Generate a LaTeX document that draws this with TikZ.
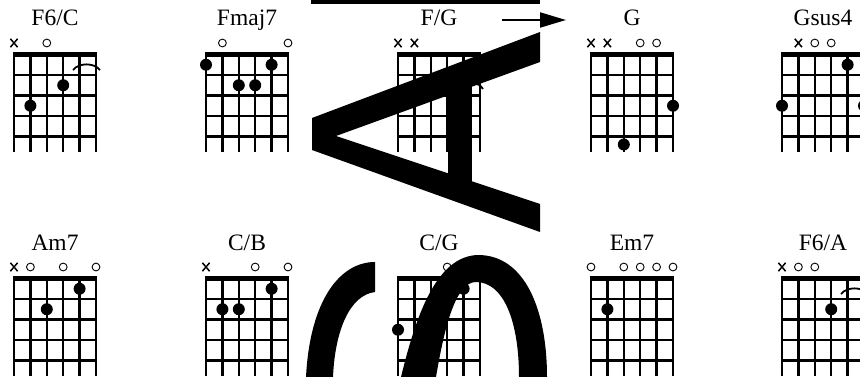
\documentclass[tikz,border=0pt]{standalone}
\usepackage{fontspec}
\setmainfont{Liberation Serif}
\usetikzlibrary{arrows.meta}
\newcommand\cgrid[2]{%
  \foreach \s in {0,...,5} \draw[gridline] ({#1+16.4*\s},#2) -- ({#1+16.4*\s},{#2+97.5});
  \foreach \f in {1,...,4} \draw[gridline] ({#1-1.2},{#2+20.5*\f}) -- ({#1+83.2},{#2+20.5*\f});
  \draw[nutline] ({#1-1.2},#2) -- ({#1+83.2},#2);
}
\newcommand\fdot[4]{\fill[dotmark] ({#1+16.4*(#3-1)},{#2+20.5*(#4-0.5)}) circle (6pt);}
\newcommand\fdoty[4]{\fill[dotmark] ({#1+16.4*(#3-1)},{#2+#4}) circle (6pt);}
\newcommand\fopen[3]{\draw[openmark] ({#1+16.4*(#3-1)},{#2-11.5}) circle (3.9pt);}
\newcommand\fmute[3]{\draw[mutemark] ({#1+16.4*(#3-1)-3.6},{#2-15.7}) -- ++(7.2,8.4) ({#1+16.4*(#3-1)-3.6},{#2-7.3}) -- ++(7.2,-8.4);}
\newcommand\farc[2]{\draw[arcmark] ({#1+59},{#2+15.5}) .. controls ({#1+65},{#2+8}) and ({#1+80},{#2+8}) .. ({#1+86},{#2+15.5});}
\begin{document}
\begin{tikzpicture}[x=1pt,y=-1pt,
  gridline/.style={line width=2.4pt},
  nutline/.style={line width=5pt},
  dotmark/.style={fill=black},
  openmark/.style={draw=black,line width=0.9pt},
  mutemark/.style={line width=1.5pt},
  arcmark/.style={line width=1.8pt},
  chordname/.style={font=\fontsize{23.5}{26}\selectfont, anchor=base, inner sep=0pt},
  blot/.style={fill=black}]
\useasboundingbox (0,0) rectangle (860,377);
\fill[white] (0,0) rectangle (860,377);
% ---------- row 1 ----------
\def\ya{54.5}
% F6/C
\node[chordname] (t1) at (55,26) {F6/C};
\cgrid{14}{\ya}
\fmute{14}{\ya}{1} \fopen{14}{\ya}{3}
\fdot{14}{\ya}{2}{3} \fdot{14}{\ya}{4}{2}
\farc{14}{\ya}
% Fmaj7
\node[chordname] (t2) at (247,26) {Fmaj7};
\cgrid{206}{\ya}
\fopen{206}{\ya}{2} \fopen{206}{\ya}{6}
\fdot{206}{\ya}{1}{1} \fdot{206}{\ya}{3}{2} \fdot{206}{\ya}{4}{2} \fdot{206}{\ya}{5}{1}
% F/G
\node[chordname] (t3) at (439,26) {F/G};
\cgrid{398}{\ya}
\fmute{398}{\ya}{1} \fmute{398}{\ya}{2}
\draw[arcmark] (466,90) .. controls (470,83) and (478,81) .. (483,89);
% G
\node[chordname] (t4) at (632,26) {G};
\cgrid{591}{\ya}
\fmute{591}{\ya}{1} \fmute{591}{\ya}{2} \fopen{591}{\ya}{4} \fopen{591}{\ya}{5}
\fdot{591}{\ya}{6}{3} \fdoty{591}{\ya}{3}{90}
% Gsus4
\node[chordname] (t5) at (823,26) {Gsus4};
\cgrid{782}{\ya}
\fmute{782}{\ya}{2} \fopen{782}{\ya}{3} \fopen{782}{\ya}{4}
\fdot{782}{\ya}{5}{1} \fdot{782}{\ya}{1}{3} \fdot{782}{\ya}{6}{3}
% ---------- row 2 ----------
\def\yb{278.5}
% Am7
\node[chordname] (t6) at (55,250) {Am7};
\cgrid{14}{\yb}
\fmute{14}{\yb}{1} \fopen{14}{\yb}{2} \fopen{14}{\yb}{4} \fopen{14}{\yb}{6}
\fdot{14}{\yb}{5}{1} \fdot{14}{\yb}{3}{2}
% C/B
\node[chordname] (t7) at (247,250) {C/B};
\cgrid{206}{\yb}
\fmute{206}{\yb}{1} \fopen{206}{\yb}{4} \fopen{206}{\yb}{6}
\fdot{206}{\yb}{2}{2} \fdot{206}{\yb}{3}{2} \fdot{206}{\yb}{5}{1}
% C/G
\node[chordname] (t8) at (439,250) {C/G};
\cgrid{398}{\yb}
\fopen{398}{\yb}{4}
\fdot{398}{\yb}{1}{3} \fdot{398}{\yb}{5}{1}
% Em7
\node[chordname] (t9) at (632,250) {Em7};
\cgrid{591}{\yb}
\fopen{591}{\yb}{1} \fopen{591}{\yb}{3} \fopen{591}{\yb}{4} \fopen{591}{\yb}{5} \fopen{591}{\yb}{6}
\fdot{591}{\yb}{2}{2}
% F6/A
\node[chordname] (t10) at (823,250) {F6/A};
\cgrid{782}{\yb}
\fmute{782}{\yb}{1} \fopen{782}{\yb}{2} \fopen{782}{\yb}{3}
\fdot{782}{\yb}{4}{2}
\farc{782}{\yb}
% ---------- overlaid black shapes ----------
\fill[blot] (311,0) rectangle (540,4);
\coordinate (arrS) at (502,20);
\coordinate (arrE) at (566,20);
\draw[line width=2pt, -{Triangle[length=26pt,width=15pt]}] (arrS) -- (arrE);
\fill[blot] (312,118) -- (540,32) -- (540,62) -- (336,136) -- (540,204) -- (540,232) -- (312,150) -- cycle;
\fill[blot] (448,85) rectangle (472,185);
\fill[blot] (375,262) .. controls (340,262) and (310,300) .. (306,377) -- (333,377)
  .. controls (335,330) and (350,295) .. (375,292) -- cycle;
\fill[blot] (401,377) .. controls (415,320) and (435,256) .. (478,255)
  .. controls (525,255) and (547,310) .. (547,377) -- (519,377)
  .. controls (519,320) and (503,282) .. (476,282)
  .. controls (455,282) and (444,330) .. (436,377) -- cycle;
\end{tikzpicture}
\end{document}
